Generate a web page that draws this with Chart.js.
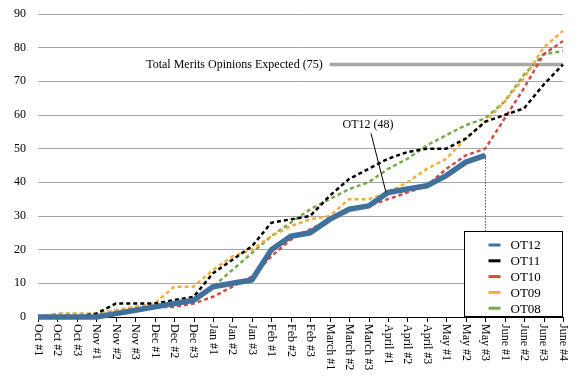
<!DOCTYPE html>
<html>
<head>
<meta charset="utf-8">
<script src="https://cdn.jsdelivr.net/npm/chart.js@4.4.1/dist/chart.umd.min.js"></script>
<style>
  html, body { margin: 0; padding: 0; background: #fff; }
</style>
</head>
<body>
<canvas id="myChart" width="580" height="390"></canvas>
<script>
// categories (weeks of the term)
const weeks = [
  'Oct #1', 'Oct #2', 'Oct #3', 'Nov #1', 'Nov #2', 'Nov #3', 'Dec #1', 'Dec #2', 'Dec #3',
  'Jan #1', 'Jan #2', 'Jan #3', 'Feb #1', 'Feb #2', 'Feb #3', 'March #1', 'March #2', 'March #3',
  'April #1', 'April #2', 'April #3', 'May #1', 'May #2', 'May #3', 'June #1', 'June #2', 'June #3', 'June #4'
];

// opinions released, cumulative
const ot12 = [0, 0, 0, 0, 1, 2, 3, 4, 5, 9, 10, 11, 20, 24, 25, 29, 32, 33, 37, 38, 39, 42, 46, 48, null, null, null, null];
const ot11 = [0, 0, 0, 1, 4, 4, 4, 5, 6, 13, 17, 21, 28, 29, 30, 36, 41, 44, 47, 49, 50, 50, 53, 58, 60, 62, 69, 75];
const ot10 = [0, 0, 0, 0, 1, 2, 3, 3, 4, 6, 9, 12, 18, 23, 26, 29, 32, 33, 35, 37, 39, 44, 48, 50, 59, 68, 78, 82];
const ot09 = [0, 1, 1, 1, 2, 3, 4, 9, 9, 14, 18, 20, 24, 27, 29, 30, 35, 35, 37, 40, 44, 47, 53, 58, 64, 71, 80, 85];
const ot08 = [0, 1, 1, 1, 2, 3, 3, 4, 5, 9, 14, 19, 24, 28, 32, 35, 38, 40, 44, 47, 51, 54, 57, 59, 64, 72, 78, 79];

const expected = 75;
const expectedFrom = 15; // line starts at March #1
const expectedLine = weeks.map((w, i) => i >= expectedFrom ? expected : null);

const yTicks = [0, 10, 20, 30, 40, 50, 60, 70, 80, 90];

const calloutIndex = 18; // OT12 callout points at April #1
const serif = '"Liberation Serif", "DejaVu Serif", serif';

// x axis: line, tick marks and labels reading top to bottom
const xAxisPlugin = {
  id: 'xAxisPlugin',
  beforeDatasetsDraw(chart) {
    const {ctx, chartArea} = chart;
    const xs = chart.scales.x;
    ctx.save();
    ctx.strokeStyle = '#000';
    ctx.lineWidth = 1;
    ctx.beginPath();
    ctx.moveTo(chartArea.left, chartArea.bottom + 0.5);
    ctx.lineTo(chartArea.right + 1, chartArea.bottom + 0.5);
    weeks.forEach((w, i) => {
      const x = Math.round(xs.getPixelForValue(i)) + 0.5;
      ctx.moveTo(x, chartArea.bottom);
      ctx.lineTo(x, chartArea.bottom + 5);
    });
    ctx.stroke();

    ctx.fillStyle = '#000';
    ctx.font = '12px ' + serif;
    ctx.textAlign = 'left';
    ctx.textBaseline = 'middle';
    weeks.forEach((w, i) => {
      const x = xs.getPixelForValue(i);
      ctx.save();
      ctx.translate(x, chartArea.bottom + 7);
      ctx.rotate(Math.PI / 2);
      ctx.fillText(w, 0, 0);
      ctx.restore();
    });
    ctx.restore();
  }
};

// annotations and legend box
const notesPlugin = {
  id: 'notesPlugin',
  afterDatasetsDraw(chart) {
    const {ctx, chartArea} = chart;
    const xs = chart.scales.x;
    const ys = chart.scales.y;
    ctx.save();

    // expected total label
    ctx.fillStyle = '#000';
    ctx.font = '12px ' + serif;
    ctx.textAlign = 'right';
    ctx.textBaseline = 'middle';
    ctx.fillText('Total Merits Opinions Expected (' + expected + ')', xs.getPixelForValue(expectedFrom) - 7, ys.getPixelForValue(expected));

    // dotted drop line from last OT12 value
    let last = ot12.length - 1;
    while (ot12[last] === null) last--;
    const lx = Math.round(xs.getPixelForValue(last)) + 0.5;
    ctx.strokeStyle = '#000';
    ctx.lineWidth = 1;
    ctx.setLineDash([1, 2]);
    ctx.beginPath();
    ctx.moveTo(lx, ys.getPixelForValue(ot12[last]));
    ctx.lineTo(lx, chartArea.bottom);
    ctx.stroke();
    ctx.setLineDash([]);

    // OT12 callout
    const px = xs.getPixelForValue(calloutIndex) - 2;
    const py = ys.getPixelForValue(ot12[calloutIndex]);
    ctx.beginPath();
    ctx.moveTo(px, py);
    ctx.lineTo(px - 15, py - 59);
    ctx.stroke();
    ctx.textAlign = 'center';
    ctx.fillText('OT12 (' + ot12[last] + ')', px - 18, py - 68);

    // legend
    const bx = Math.round(chartArea.right) - 98.5;
    const by = chartArea.bottom - 85.5;
    ctx.fillStyle = '#fff';
    ctx.fillRect(bx, by, 98, 85);
    ctx.strokeStyle = '#000';
    ctx.strokeRect(bx, by, 98, 85);
    ctx.font = '13px ' + serif;
    ctx.textAlign = 'left';
    chart.data.datasets.filter(d => d.label).forEach((d, i) => {
      const y = by + 13.5 + i * 15.8;
      ctx.strokeStyle = d.borderColor;
      ctx.lineWidth = 3;
      ctx.beginPath();
      ctx.moveTo(bx + 24, y);
      ctx.lineTo(bx + 36, y);
      ctx.stroke();
      ctx.fillStyle = '#000';
      ctx.fillText(d.label, bx + 46, y + 1);
    });
    ctx.restore();
  }
};

const ctx = document.getElementById('myChart');

new Chart(ctx, {
  type: 'line',
  data: {
    labels: weeks,
    datasets: [
      { label: 'OT12', data: ot12, borderColor: '#41709c', borderWidth: 5.5 },
      { label: 'OT11', data: ot11, borderColor: '#000000', borderWidth: 2.5, borderDash: [4, 3] },
      { label: 'OT10', data: ot10, borderColor: '#d24b46', borderWidth: 2.5, borderDash: [4, 3] },
      { label: 'OT09', data: ot09, borderColor: '#f4ae3f', borderWidth: 2.5, borderDash: [4, 3] },
      { label: 'OT08', data: ot08, borderColor: '#79a84c', borderWidth: 2.5, borderDash: [4, 3] },
      { label: '', data: expectedLine, borderColor: '#a6a6a6', borderWidth: 3.5 }
    ]
  },
  options: {
    responsive: false,
    animation: false,
    layout: { padding: { top: 14, right: 17, bottom: 73, left: 0 } },
    elements: {
      line: { tension: 0, borderCapStyle: 'butt', borderJoinStyle: 'round', fill: false },
      point: { radius: 0, hoverRadius: 0 }
    },
    datasets: { line: { clip: false, spanGaps: false } },
    plugins: {
      legend: { display: false },
      tooltip: { enabled: false }
    },
    scales: {
      x: { display: false },
      y: {
        min: 0,
        max: 90,
        afterBuildTicks: (scale) => { scale.ticks = yTicks.map(v => ({ value: v })); },
        afterFit: (scale) => {
          scale.width = 38;
          scale.paddingTop = 0;
          scale.paddingBottom = 0;
        },
        border: { display: false },
        grid: { color: '#a6a6a6', lineWidth: 1, drawTicks: false },
        ticks: { padding: 12, color: '#000', font: { family: serif, size: 12 } }
      }
    }
  },
  plugins: [xAxisPlugin, notesPlugin]
});
</script>
</body>
</html>
